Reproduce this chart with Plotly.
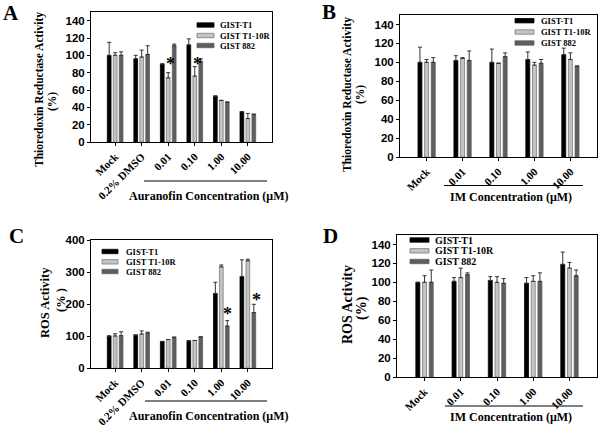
import plotly.graph_objects as go
from plotly.subplots import make_subplots

# ---------------- data ----------------
series = ["GIST-T1", "GIST T1-10R", "GIST 882"]
au_cats = ["Mock", "0.2% DMSO", "0.01", "0.10", "1.00", "10.00"]
im_cats = ["Mock", "0.01", "0.10", "1.00", "10.00"]

a_t1 = [100, 96, 90, 112, 53, 35]
a_t1_err = [15, 4, 0, 7, 0, 0]
a_10r = [100, 98, 74, 76, 48, 27]
a_10r_err = [3, 8, 6, 11, 0, 6]
a_882 = [100, 101, 111, 93, 46, 32]
a_882_err = [4, 10, 2, 3, 0, 0]

b_t1 = [100, 102, 100, 103, 108]
b_t1_err = [16, 5, 14, 8, 7]
b_10r = [100, 104, 99, 97, 103]
b_10r_err = [3, 1, 0, 3, 7]
b_882 = [100, 102, 106, 99, 96]
b_882_err = [5, 10, 4, 4, 0]

c_t1 = [100, 103, 83, 85, 233, 286]
c_t1_err = [0, 0, 0, 0, 35, 52]
c_10r = [100, 106, 89, 86, 316, 335]
c_10r_err = [7, 10, 0, 0, 6, 5]
c_882 = [101, 109, 95, 97, 131, 173]
c_882_err = [12, 3, 2, 0, 17, 26]

d_t1 = [100, 101, 102, 99, 119]
d_t1_err = [0, 4, 4, 6, 13]
d_10r = [100, 105, 100, 101, 115]
d_10r_err = [7, 10, 6, 6, 6]
d_882 = [100, 108, 99, 101, 107]
d_882_err = [13, 2, 5, 9, 6]

# significance stars: (category, y value)
a_stars = [("0.01", 90), ("0.10", 90)]
c_stars = [("1.00", 170), ("10.00", 212)]

# ---------------- style ----------------
SERIF = "Times New Roman, Liberation Serif, serif"
SANS = "Arial, Liberation Sans, sans-serif"
fills = ["#000000", "#c4c4c4", "#5e5e5e"]
lines = ["#000000", "#7a7a7a", "#5e5e5e"]

W, H = 600, 426
def X(px):
    return px / W
def Y(py):
    return 1 - py / H

fig = make_subplots(rows=2, cols=2)

panels = [
    ("A", 1, 1, au_cats, [a_t1, a_10r, a_882], [a_t1_err, a_10r_err, a_882_err],
     0.14, 0.225, [-0.91, 5.91], [0, 150], 20, (91, 272, 12, 142)),
    ("B", 1, 2, im_cats, [b_t1, b_10r, b_882], [b_t1_err, b_10r_err, b_882_err],
     0.11, 0.185, [-0.74, 4.74], [0, 150], 20, (400, 597, 15, 157)),
    ("C", 2, 1, au_cats, [c_t1, c_10r, c_882], [c_t1_err, c_10r_err, c_882_err],
     0.14, 0.225, [-0.91, 5.91], [0, 400], 100, (91, 272, 240, 368)),
    ("D", 2, 2, im_cats, [d_t1, d_10r, d_882], [d_t1_err, d_10r_err, d_882_err],
     0.11, 0.185, [-0.76, 4.76], [0, 150], 20, (397, 597, 235, 377)),
]

for key, r, c, cats, vals, errs, bw, slot, xr, yr, dt, box in panels:
    for i in range(3):
        off = (i - 1) * slot - bw / 2
        fig.add_trace(go.Bar(
            x=cats, y=vals[i], name=series[i], showlegend=False,
            width=bw, offset=off,
            marker=dict(color=fills[i], line=dict(color=lines[i], width=0.8)),
            error_y=dict(type="data", array=errs[i], arrayminus=[0] * len(cats),
                         symmetric=False, color="#333333", thickness=1, width=2),
        ), row=r, col=c)
    x0, x1, y0, y1 = box
    fig.update_xaxes(row=r, col=c, type="category", categoryorder="array",
                     categoryarray=cats, range=xr, domain=[X(x0), X(x1)],
                     showline=True, mirror=True, linecolor="black", linewidth=1,
                     ticks="outside", ticklen=3, tickwidth=1, tickcolor="black",
                     tickangle=-45, showgrid=False, zeroline=False, automargin=False,
                     tickfont=dict(family=SERIF, size=11, color="black", weight="bold"))
    fig.update_yaxes(row=r, col=c, range=yr, dtick=dt, domain=[Y(y1), Y(y0)],
                     showline=True, mirror=True, linecolor="black", linewidth=1,
                     ticks="outside", ticklen=3, tickwidth=1, tickcolor="black",
                     showgrid=False, zeroline=False, automargin=False,
                     tickfont=dict(family=SANS, size=11.5, color="black", weight="bold"))

fig.update_layout(barmode="overlay")

ann = []
shapes = []

for txt, px, py in [("A", 11, 13), ("B", 329, 12), ("C", 16, 236), ("D", 330, 236)]:
    ann.append(dict(text=txt, x=X(px), y=Y(py), xref="paper", yref="paper",
                    showarrow=False, xanchor="center", yanchor="middle",
                    font=dict(family=SERIF, size=21, color="black", weight="bold")))

for txt, px, py, fs in [("Thioredoxin Reductase Activity", 40, 90, 11.5), ("(%)", 52, 102, 11.5),
                        ("Thioredoxin Reductase Activity", 347, 95, 11.5), ("(%)", 360, 95, 11.5),
                        ("ROS Activity", 45, 303, 12.5), ("(% )", 61, 300, 12.5),
                        ("ROS Activity", 347, 305, 14), ("(%)", 362, 308, 14)]:
    ann.append(dict(text=txt, x=X(px), y=Y(py), xref="paper", yref="paper",
                    showarrow=False, textangle=-90, xanchor="center", yanchor="middle",
                    font=dict(family=SERIF, size=fs, color="black", weight="bold")))

for txt, px, py in [("Auranofin Concentration (\u03bcM)", 208, 196),
                    ("IM Concentration (\u03bcM)", 511, 197),
                    ("Auranofin Concentration (\u03bcM)", 208, 416),
                    ("IM Concentration (\u03bcM)", 511, 417)]:
    ann.append(dict(text=txt, x=X(px), y=Y(py), xref="paper", yref="paper",
                    showarrow=False, xanchor="center", yanchor="middle",
                    font=dict(family=SERIF, size=12, color="black", weight="bold")))
for lx0, lx1, ly in [(144, 267, 181), (444, 583, 185.5), (145, 267, 401), (445, 583, 406)]:
    shapes.append(dict(type="line", xref="paper", yref="paper",
                       x0=X(lx0), x1=X(lx1), y0=Y(ly), y1=Y(ly),
                       line=dict(color="black", width=1)))

for stars, xa, ya, cats, offs in [(a_stars, "x", "y", au_cats, [0.1, 0.1]),
                                  (c_stars, "x3", "y3", au_cats, [0.225, 0.34])]:
    for (cat, yv), o in zip(stars, offs):
        ann.append(dict(text="*", x=cats.index(cat) + o, y=yv, xref=xa, yref=ya,
                        showarrow=False, xanchor="center", yanchor="middle",
                        font=dict(family=SERIF, size=18, color="black", weight="bold")))

legends = [
    (197, 214, 218, [25, 35.5, 45.5], 8.5),
    (515, 534, 539, [20.7, 32, 43], 8.5),
    (102, 118, 124, [251.5, 261.8, 271.5], 8.5),
    (410, 429, 433, [240, 250.8, 261.5], 10),
]
for sx0, sx1, tx, rows, fs in legends:
    for i, ry in enumerate(rows):
        shapes.append(dict(type="rect", xref="paper", yref="paper",
                           x0=X(sx0), x1=X(sx1), y0=Y(ry + 2.2), y1=Y(ry - 2.2),
                           fillcolor=fills[i], line=dict(color=lines[i], width=0.8)))
        ann.append(dict(text=series[i], x=X(tx), y=Y(ry), xref="paper", yref="paper",
                        showarrow=False, xanchor="left", yanchor="middle",
                        font=dict(family=SERIF, size=fs, color="black", weight="bold")))

fig.update_layout(width=W, height=H, margin=dict(l=0, r=0, t=0, b=0),
                  paper_bgcolor="white", plot_bgcolor="white",
                  annotations=ann, shapes=shapes, showlegend=False)

fig.write_html("out.html", config={"displayModeBar": False},
               post_script="document.body.style.margin='0';document.body.style.padding='0';")
